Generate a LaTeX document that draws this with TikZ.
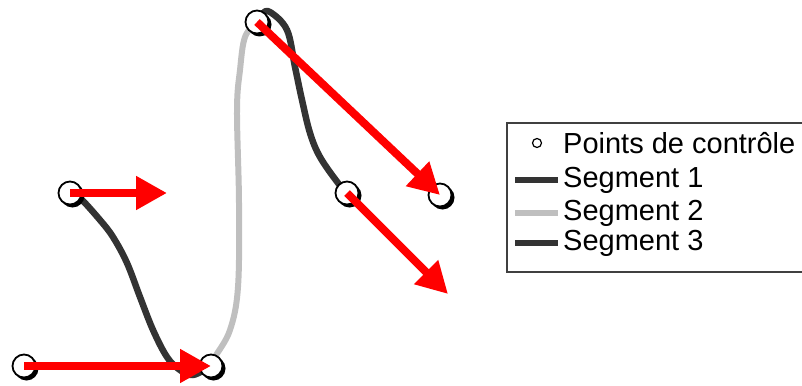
\documentclass[tikz,border=0pt]{standalone}
\usepackage{fontspec}
\setmainfont{Liberation Sans}
\usetikzlibrary{arrows.meta}
\definecolor{segdark}{RGB}{51,51,51}
\definecolor{seglight}{RGB}{191,191,191}
\tikzset{
  seg/.style={line width=6.5pt, line cap=round, line join=round},
  cpt/.style={circle, draw=black, fill=white, line width=1.8pt, minimum size=23pt, inner sep=0pt},
  cshadow/.style={circle, fill=black, minimum size=24pt, inner sep=0pt},
  tang/.style={red, line width=8pt, -{Triangle[length=31pt,width=32pt]}},
  legtext/.style={anchor=west, inner sep=0pt, font=\fontsize{29pt}{29pt}\selectfont}
}
\begin{document}
\begin{tikzpicture}[x=1pt, y=-1pt]
\useasboundingbox (0,0) rectangle (802,385);
% curves
\draw[seg, segdark] plot[smooth, tension=0.6] coordinates {(70,193) (80,198) (100,220) (113,237) (127,263) (140,297) (153,330) (167,357) (180,370) (193,375) (211,366)};
\draw[seg, seglight, line width=6pt] plot[smooth, tension=0.6] coordinates {(211,366) (215,357) (230,330) (238,287) (239,203) (237,110) (240,70) (245,37) (257,22)};
\draw[seg, segdark] plot[smooth, tension=0.6] coordinates {(257,22) (262,14) (270,12) (287,30) (295,67) (302,100) (310,133) (320,157) (338,183) (347,193)};
% shadows
\foreach \x/\y in {24/366, 211/366, 70/193, 257/22, 347/193, 440/195}
  \node[cshadow] at (\x+2.5,\y+2.5) {};
% control points
\node[cpt] (p0) at (24,366) {};
\node[cpt] (p1) at (211,366) {};
\node[cpt] (p2) at (70,193) {};
\node[cpt] (p3) at (257,22) {};
\node[cpt] (p4) at (347,193) {};
\node[cpt] (p5) at (440,195) {};
% tangents
\coordinate (t2) at (167,193);
\coordinate (t4) at (448,294);
\draw[tang] (p0.center) -- (p1.center);
\draw[tang] (p2.center) -- (t2);
\draw[tang] (p3.center) -- (p5.center);
\draw[tang] (p4.center) -- (t4);
% legend
\draw[draw=black!75, line width=1.3pt, fill=white] (507,123) rectangle (806,272);
\node[circle, draw=black, line width=1.2pt, minimum size=9pt, inner sep=0pt] (lc) at (537,143) {};
\node[legtext] (l0) at (563,143) {Points de contrôle};
\coordinate (a1) at (515,180); \coordinate (b1) at (558,180);
\coordinate (a2) at (515,213); \coordinate (b2) at (558,213);
\coordinate (a3) at (515,243); \coordinate (b3) at (558,243);
\draw[segdark, line width=6.5pt] (a1) -- (b1);
\draw[seglight, line width=6.5pt] (a2) -- (b2);
\draw[segdark, line width=6.5pt] (a3) -- (b3);
\node[legtext] (l1) at (563,180) {Segment 1};
\node[legtext] (l2) at (563,213) {Segment 2};
\node[legtext] (l3) at (563,243) {Segment 3};
\end{tikzpicture}
\end{document}
